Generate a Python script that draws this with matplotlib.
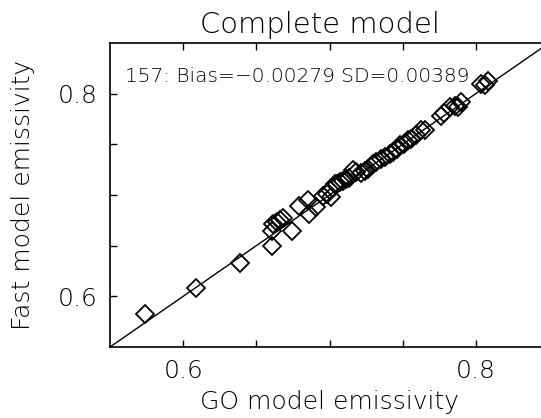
import matplotlib
matplotlib.use("Agg")
import matplotlib.pyplot as plt

# valeurs (GO model vs Fast model)
go_emis = [0.574, 0.6085, 0.639, 0.6608, 0.6604, 0.6615, 0.664, 0.666, 0.6683, 0.6744,
           0.679, 0.6854, 0.6858, 0.6911, 0.6956, 0.6985, 0.7013, 0.7002, 0.7036, 0.705,
           0.707, 0.709, 0.7116, 0.7135, 0.7161, 0.718, 0.7218, 0.724, 0.7265, 0.7297,
           0.732, 0.7355, 0.738, 0.7411, 0.7435, 0.746, 0.748, 0.751, 0.7536, 0.756,
           0.7593, 0.7627, 0.765, 0.7764, 0.7785, 0.7821, 0.7855, 0.7875, 0.79,
           0.8037, 0.8082, 0.806]
fast_emis = [0.583, 0.6085, 0.633, 0.6493, 0.664, 0.6713, 0.673, 0.6755, 0.677, 0.6643,
             0.6895, 0.6951, 0.681, 0.6879, 0.6993, 0.7005, 0.6983, 0.705, 0.7108, 0.711,
             0.713, 0.714, 0.7157, 0.717, 0.7245, 0.7225, 0.7213, 0.7235, 0.726, 0.731,
             0.7325, 0.736, 0.7375, 0.7408, 0.742, 0.7455, 0.749, 0.7505, 0.7539, 0.7555,
             0.7588, 0.7637, 0.7645, 0.7784, 0.7805, 0.7866, 0.7882, 0.7865, 0.7915,
             0.8095, 0.8127, 0.8085]
n_points = 157
bias = -0.00279
sd = 0.00389

plt.rcParams['font.family'] = 'DejaVu Sans'
plt.rcParams['font.weight'] = 'light'
plt.rcParams['axes.labelweight'] = 'light'

fig = plt.figure(figsize=(5.41, 4.18), dpi=100)
ax = fig.add_axes([110 / 541, 1 - 347 / 418, 439 / 541, 304 / 418])

# droite y = x
ax.plot([0.55, 0.85], [0.55, 0.85], color='k', lw=1.0)
ax.plot(go_emis, fast_emis, linestyle='none', marker='D', markersize=9.5,
        markerfacecolor='none', markeredgecolor='k', markeredgewidth=1.3)

ax.set_xlim(0.55, 0.85)
ax.set_ylim(0.55, 0.85)
ticks = [0.6, 0.65, 0.7, 0.75, 0.8]
labels = ['0.6', '', '', '', '0.8']
ax.set_xticks(ticks)
ax.set_xticklabels(labels)
ax.set_yticks(ticks)
ax.set_yticklabels(labels)
ax.tick_params(direction='in', length=5, width=1.0, top=True, right=True,
               labelsize=18, pad=9)
for s in ax.spines.values():
    s.set_linewidth(1.2)

ax.set_xlabel("GO model emissivity", fontsize=18, labelpad=5)
ax.set_ylabel("Fast model emissivity", fontsize=18, labelpad=16)
fig.text(320 / 541, 1 - 33 / 418, "Complete model", fontsize=21,
         ha='center', va='baseline')

ax.text(125 / 541, 1 - 77 / 418,
        f"{n_points}: Bias={bias:.5f} SD={sd:.5f}".replace('-', '\u2212'),
        transform=fig.transFigure, fontsize=14.5, ha='left', va='center')

fig.savefig("out.png", dpi=100)
